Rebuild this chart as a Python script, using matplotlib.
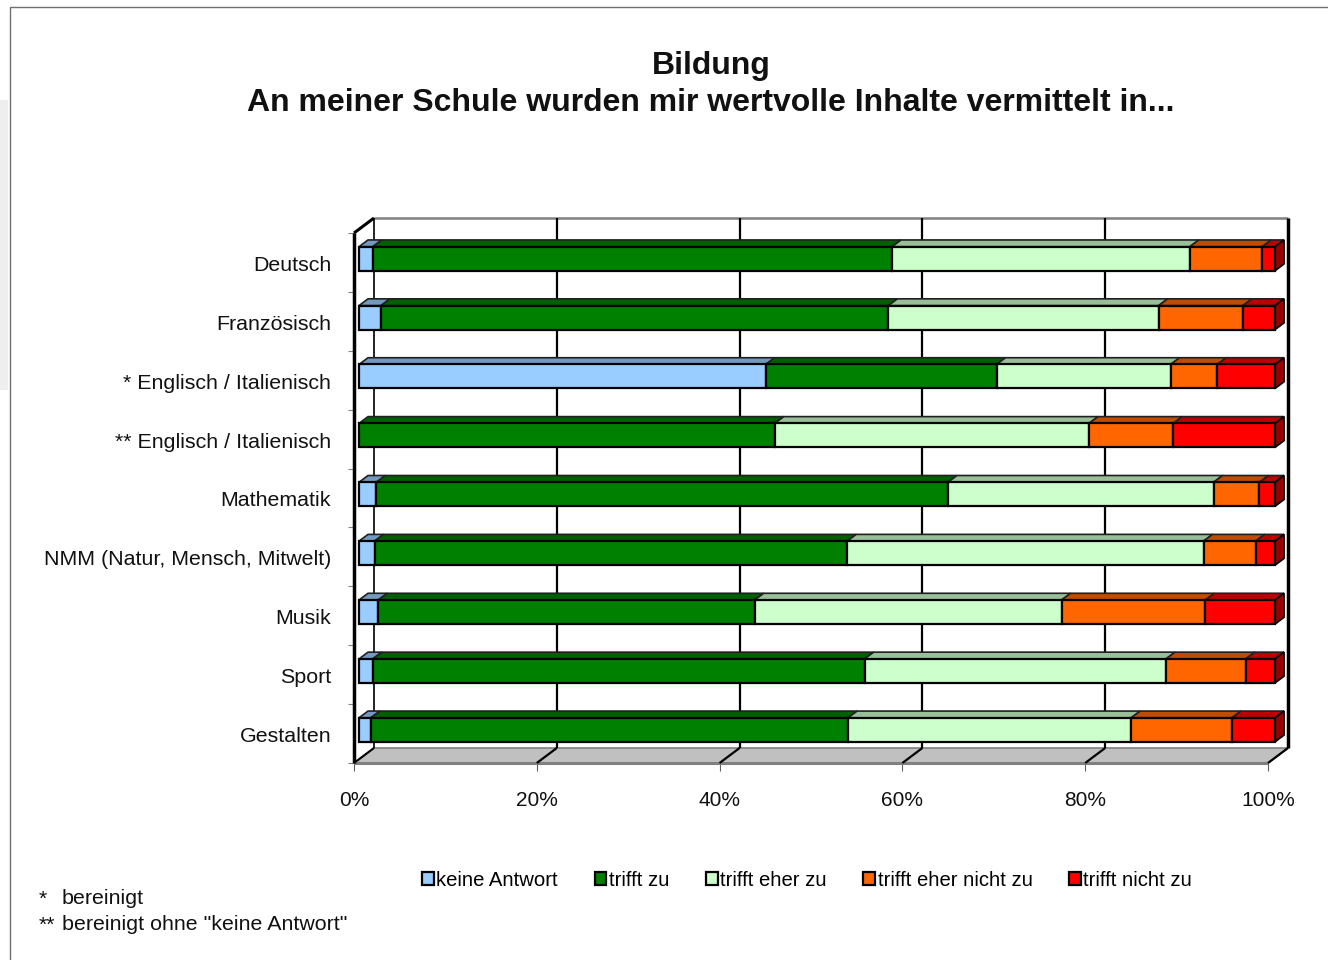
import matplotlib
matplotlib.use("Agg")
import matplotlib.pyplot as plt
from matplotlib.patches import Polygon, Patch, Rectangle
from matplotlib.lines import Line2D
from matplotlib.transforms import Affine2D

plt.rcParams['font.family'] = ['Liberation Sans', 'DejaVu Sans']

kategorien = ["Deutsch", "Französisch", "* Englisch / Italienisch", "** Englisch / Italienisch",
              "Mathematik", "NMM (Natur, Mensch, Mitwelt)", "Musik", "Sport", "Gestalten"]
antworten = ["keine Antwort", "trifft zu", "trifft eher zu", "trifft eher nicht zu", "trifft nicht zu"]

keine_antwort = [1.5, 2.4, 44.4, 0.0, 1.9, 1.7, 2.1, 1.5, 1.3]
trifft_zu = [56.7, 55.4, 25.2, 45.4, 62.4, 51.6, 41.1, 53.7, 52.1]
eher_zu = [32.5, 29.5, 19.0, 34.3, 29.0, 38.9, 33.5, 32.9, 30.9]
eher_nicht = [7.9, 9.2, 5.1, 9.2, 5.0, 5.7, 15.7, 8.7, 11.0]
nicht_zu = [1.4, 3.5, 6.3, 11.1, 1.7, 2.1, 7.6, 3.2, 4.7]
reihen = [keine_antwort, trifft_zu, eher_zu, eher_nicht, nicht_zu]

farben = ["#99ccff", "#008000", "#ccffcc", "#ff6600", "#ff0000"]
farben_oben = ["#7399bf", "#006000", "#99bf99", "#bf4c00", "#bf0000"]
farbe_seite = "#990000"

B, H = 1328, 960
fig = plt.figure(figsize=(B / 100, H / 100), dpi=100)
ax = fig.add_axes([354 / B, 1 - 763 / H, (1268 - 354) / B, (763 - 233) / H])
ax.set_xlim(0, 100)
ax.set_ylim(len(kategorien), 0)

# Tiefe der 3D-Darstellung in Dateneinheiten (20 px nach rechts, 15 px nach oben)
tx = 20 / 914 * 100
ty = 15 / (530 / 9)
balken = 24 / (530 / 9)
skala = 916 / 914


def pt(x, y, d):
    return (x + d * tx, y - d * ty)


def flaeche(punkte, farbe, kante="black", lw=1.5, z=1):
    ax.add_patch(Polygon(punkte, closed=True, facecolor=farbe, edgecolor=kante, linewidth=lw,
                         joinstyle="miter", clip_on=False, zorder=z))


def linie(a, b, farbe="black", lw=1.5, z=2):
    ax.add_line(Line2D([a[0], b[0]], [a[1], b[1]], color=farbe, linewidth=lw, clip_on=False,
                       zorder=z, solid_capstyle="butt"))


n = len(kategorien)
# Rueckwand und Boden
flaeche([pt(0, n, 0), pt(100, n, 0), pt(100, n, 1), pt(0, n, 1)], "#c0c0c0", "#808080", 1.2)
linie(pt(0, n, 0), pt(100, n, 0), "#808080", 2.2, 3)
linie(pt(0, 0, 1), pt(100, 0, 1), "#808080", 1.8)
linie(pt(0, 0, 1), pt(0, n, 1), "black", 1.2)
linie(pt(100, 0, 1), pt(100, n, 1), "black", 2.5)
linie(pt(0, 0, 0), pt(0, n, 0), "black", 2.5, 3)
linie(pt(0, 0, 0), pt(0, 0, 1), "black", 2.2)
linie(pt(0, n, 0), pt(0, n, 1), "black", 1.5)
for w in range(20, 101, 20):
    if w < 100:
        linie(pt(w, 0, 1), pt(w, n, 1), "black", 1.6)
    linie(pt(w, n, 0), pt(w, n, 1), "black", 1.6, 3)

# Balken
for i in range(n):
    y0 = i + 0.5 - balken / 2
    y1 = i + 0.5 + balken / 2
    links = 0
    for j, reihe in enumerate(reihen):
        w = reihe[i] * skala
        if w > 0:
            flaeche([pt(links, y0, 0.25), pt(links + w, y0, 0.25), pt(links + w, y0, 0.7), pt(links, y0, 0.7)],
                    farben_oben[j], "#202020", 1.2, 4 + j)
            flaeche([pt(links, y0, 0.25), pt(links + w, y0, 0.25), pt(links + w, y1, 0.25), pt(links, y1, 0.25)],
                    farben[j], "black", 1.6, 10 + j)
        links += w
    flaeche([pt(links, y0, 0.25), pt(links, y0, 0.7), pt(links, y1, 0.7), pt(links, y1, 0.25)],
            farbe_seite, "black", 1.3, 9)

# Achsen
for s in ax.spines.values():
    s.set_visible(False)
ax.patch.set_visible(False)
ax.set_xticks(range(0, 101, 20))
ax.set_xticklabels([str(w) + "%" for w in range(0, 101, 20)], fontsize=15, color="#111111")
ax.tick_params(axis="x", length=6, width=0.8, color="#606060", pad=14)
ax.set_yticks([i + 0.5 for i in range(n)])
ax.set_yticklabels(kategorien, fontsize=15.4, color="#111111")
ax.tick_params(axis="y", which="major", length=0, pad=16.5)
ax.set_yticks(range(n + 1), minor=True)
ax.tick_params(axis="y", which="minor", length=4.5, width=0.8, color="#808080")
for t in ax.get_yticklabels():
    t.set_transform(t.get_transform() + Affine2D().translate(0, -1))

# Titel
fig.text(711 / B, 1 - 66 / H, "Bildung", fontsize=23.05, fontweight="bold", ha="center", va="center", color="#111111")
fig.text(711 / B, 1 - 103 / H, "An meiner Schule wurden mir wertvolle Inhalte vermittelt in...", fontsize=23.05,
         fontweight="bold", ha="center", va="center", color="#111111")

# Legende
griffe = [Patch(facecolor=f, edgecolor="black", linewidth=1.6) for f in farben]
fig.legend(griffe, antworten, ncols=5, frameon=False, fontsize=14.55, loc="center left",
           bbox_to_anchor=(404 / B, 1 - 880 / H), handlelength=0.58, handleheight=0.58,
           handletextpad=0.12, columnspacing=1.82, borderpad=0.4)

# Fussnoten
fig.text(39 / B, 1 - 899 / H, "*", fontsize=15.4, va="center", color="#111111")
fig.text(62 / B, 1 - 899 / H, "bereinigt", fontsize=15.4, va="center", color="#111111")
fig.text(39 / B, 1 - 925 / H, "**", fontsize=15.4, va="center", color="#111111")
fig.text(62 / B, 1 - 925 / H, "bereinigt ohne \"keine Antwort\"", fontsize=15.4, va="center", color="#111111")

# Rahmen
fig.add_artist(Line2D([9.5 / B, 9.5 / B, 1], [0, 1 - 6.5 / H, 1 - 6.5 / H], color="#707070", linewidth=1))
fig.add_artist(Rectangle((0, 1 - 390 / H), 8 / B, 290 / H, facecolor="#eeeeee", edgecolor="none"))

fig.savefig("out.png", dpi=100)
